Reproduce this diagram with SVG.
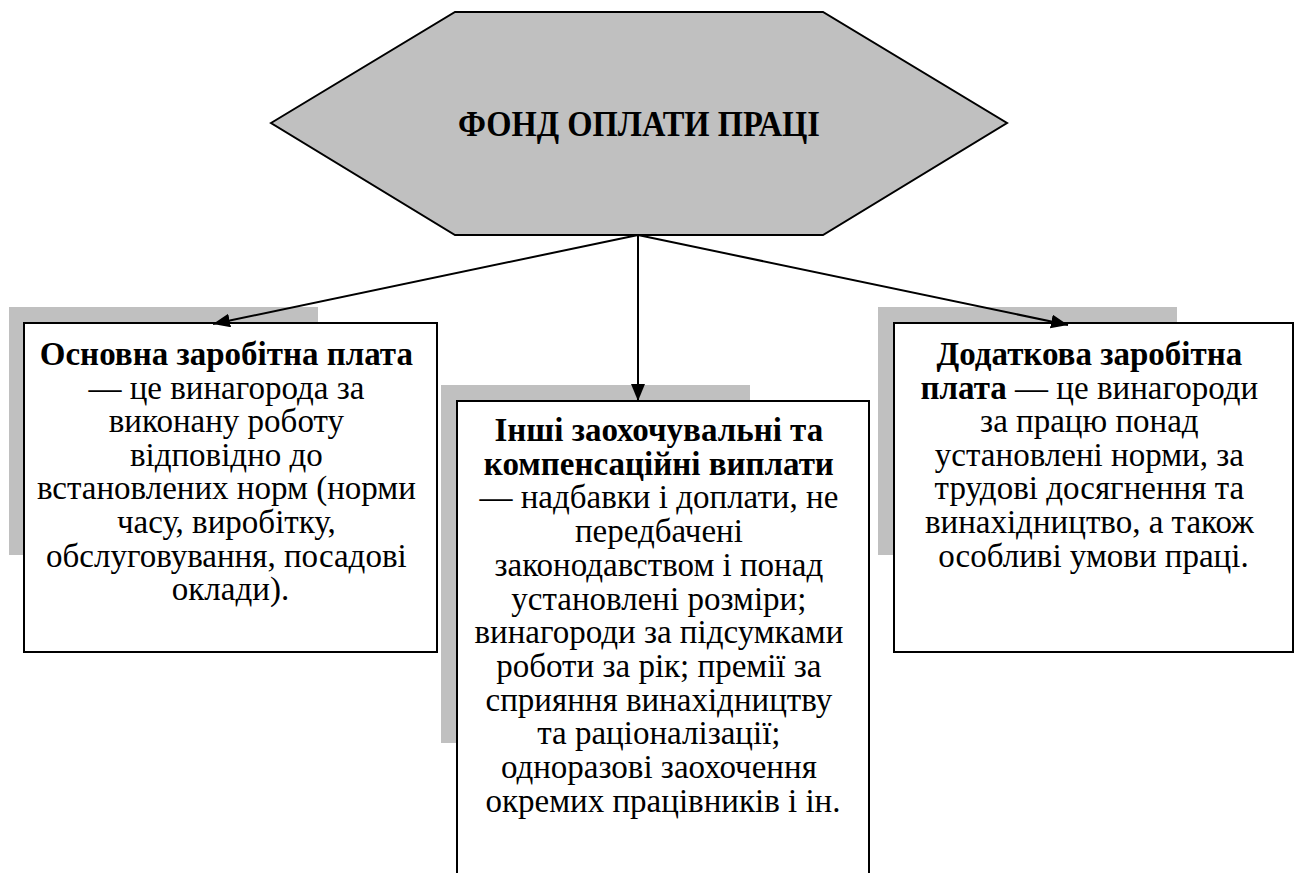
<svg xmlns="http://www.w3.org/2000/svg" width="1297" height="873" viewBox="0 0 1297 873">
<defs>
<marker id="ah" markerUnits="userSpaceOnUse" markerWidth="18" markerHeight="15" refX="17" refY="7" orient="auto">
<path d="M0,0 L17,7 L0,14 z" fill="#000"/>
</marker>
</defs>
<style>
.shadow{fill:#c0c0c0;stroke:none}
.box{fill:#fff;stroke:#000;stroke-width:2}
.t{font-family:"Liberation Serif","Times New Roman",serif;font-size:33px;fill:#000;text-anchor:middle}
.title{font-size:36px}
.b{font-weight:bold}
.conn{stroke:#000;stroke-width:2;fill:none;marker-end:url(#ah)}
</style>
<rect width="1297" height="873" fill="#fff"/>
<g id="fond">
<polygon points="271,123 455,12 823,12 1007,123 823,235 455,235" fill="#c0c0c0" stroke="#000" stroke-width="2"/>
<text class="t b title" x="639" y="136" textLength="362" lengthAdjust="spacingAndGlyphs">ФОНД ОПЛАТИ ПРАЦІ</text>
</g>
<g id="osnovna">
<rect class="shadow" x="9" y="307" width="309" height="248"/>
<rect class="box" x="24" y="323" width="413" height="329"/>
<text class="t">
<tspan class="b" x="230.5" y="365">Основна заробітна плата</tspan>
<tspan x="230.5" y="398.6">— це винагорода за</tspan>
<tspan x="230.5" y="432.2">виконану роботу</tspan>
<tspan x="230.5" y="465.8">відповідно до</tspan>
<tspan x="230.5" y="499.4">встановлених норм (норми</tspan>
<tspan x="230.5" y="533">часу, виробітку,</tspan>
<tspan x="230.5" y="566.6">обслуговування, посадові</tspan>
<tspan x="230.5" y="600.2">оклади).</tspan>
</text>
</g>
<g id="inshi">
<rect class="shadow" x="441" y="385" width="309" height="358"/>
<rect class="box" x="457" y="401" width="412" height="480"/>
<text class="t">
<tspan class="b" x="663" y="441">Інші заохочувальні та</tspan>
<tspan class="b" x="663" y="474.7">компенсаційні виплати</tspan>
<tspan x="663" y="508.4">— надбавки і доплати, не</tspan>
<tspan x="663" y="542.1">передбачені</tspan>
<tspan x="663" y="575.8">законодавством і понад</tspan>
<tspan x="663" y="609.5">установлені розміри;</tspan>
<tspan x="663" y="643.2">винагороди за підсумками</tspan>
<tspan x="663" y="676.9">роботи за рік; премії за</tspan>
<tspan x="663" y="710.6">сприяння винахідництву</tspan>
<tspan x="663" y="744.3">та раціоналізації;</tspan>
<tspan x="663" y="778">одноразові заохочення</tspan>
<tspan x="663" y="811.7">окремих працівників і ін.</tspan>
</text>
</g>
<g id="dodatkova">
<rect class="shadow" x="878" y="307" width="299" height="248"/>
<rect class="box" x="894" y="323" width="399" height="329"/>
<text class="t">
<tspan class="b" x="1093.5" y="365">Додаткова заробітна</tspan>
<tspan x="1093.5" y="398.6"><tspan class="b">плата</tspan> — це винагороди</tspan>
<tspan x="1093.5" y="432.2">за працю понад</tspan>
<tspan x="1093.5" y="465.8">установлені норми, за</tspan>
<tspan x="1093.5" y="499.4">трудові досягнення та</tspan>
<tspan x="1093.5" y="533">винахідництво, а також</tspan>
<tspan x="1093.5" y="566.6">особливі умови праці.</tspan>
</text>
</g>
<g id="connectors">
<line class="conn" x1="638" y1="235" x2="213" y2="324"/>
<line class="conn" x1="638" y1="235" x2="638" y2="401"/>
<line class="conn" x1="638" y1="235" x2="1068" y2="325"/>
</g>
</svg>
